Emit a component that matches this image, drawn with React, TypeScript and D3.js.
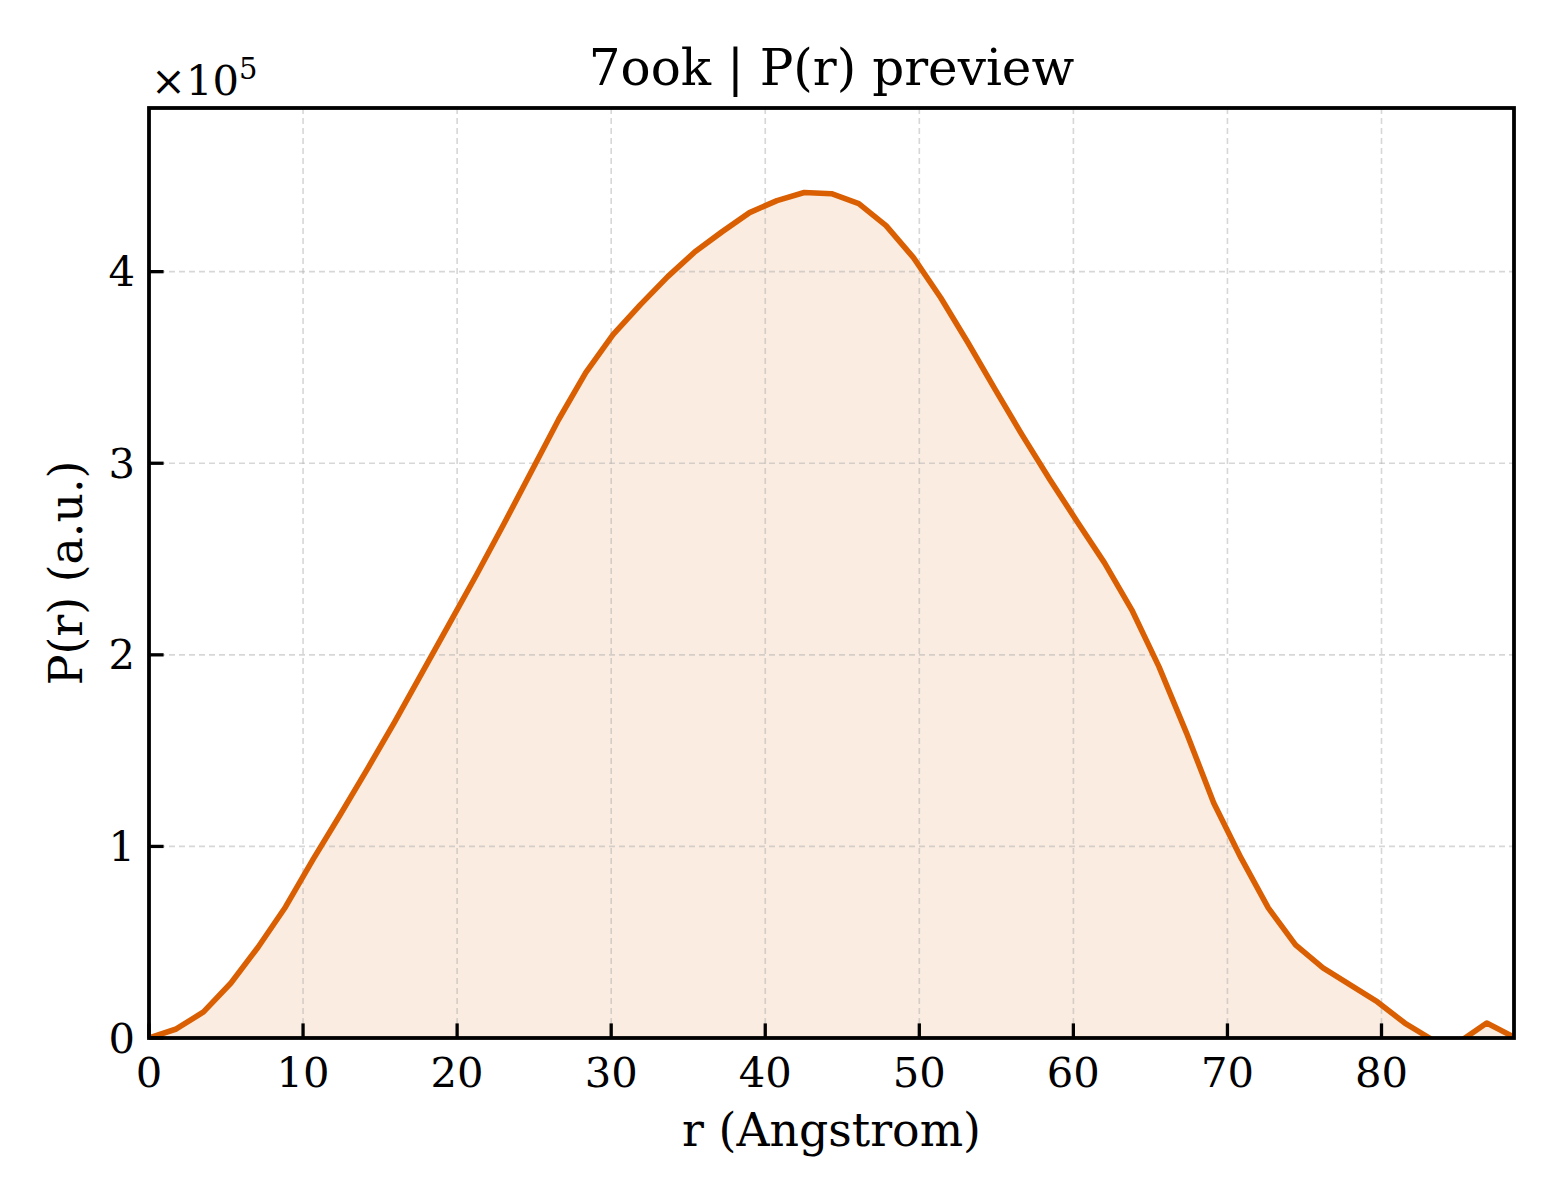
import React from 'react';
import * as d3 from 'd3';

// r grid (Angstrom)
const rValues = [
  0, 1.77, 3.54, 5.32, 7.09, 8.86, 10.63, 12.4, 14.18, 15.95, 17.72, 19.49, 21.26,
  23.04, 24.81, 26.58, 28.35, 30.12, 31.9, 33.67, 35.44, 37.21, 38.98, 40.76, 42.53,
  44.3, 46.07, 47.84, 49.62, 51.39, 53.16, 54.93, 56.7, 58.48, 60.25, 62.02, 63.79,
  65.56, 67.34, 69.11, 70.88, 72.65, 74.42, 76.2, 77.97, 79.74, 81.51, 83.28, 85.06,
  86.83, 88.6,
];

// P(r) in units of 1e5
const prValues = [
  0, 0.047, 0.136, 0.287, 0.475, 0.684, 0.93, 1.164, 1.405, 1.65, 1.906, 2.162, 2.418,
  2.684, 2.956, 3.227, 3.473, 3.671, 3.828, 3.974, 4.104, 4.209, 4.308, 4.371, 4.413,
  4.407, 4.355, 4.24, 4.073, 3.864, 3.629, 3.384, 3.144, 2.914, 2.695, 2.48, 2.235,
  1.937, 1.593, 1.227, 0.94, 0.679, 0.486, 0.366, 0.277, 0.188, 0.078, -0.008, -0.02,
  0.078, 0.005,
];

const xTicks = [0, 10, 20, 30, 40, 50, 60, 70, 80];
const yTicks = [0, 1, 2, 3, 4];

const title = '7ook | P(r) preview';
const xLabel = 'r (Angstrom)';
const yLabel = 'P(r) (a.u.)';

const App: React.FC = () => {
  const width = 1560;
  const height = 1200;
  const margin = { top: 108, right: 46, bottom: 162, left: 149 };
  const x0 = margin.left;
  const x1 = width - margin.right;
  const y0 = height - margin.bottom;
  const y1 = margin.top;

  const font = '"DejaVu Serif", serif';
  const lineColor = '#d95f02';

  const data = rValues.map((r, i) => ({ r, p: prValues[i] }));

  const xScale = d3
    .scaleLinear()
    .domain([0, d3.max(rValues) as number])
    .range([x0, x1]);

  const yScale = d3
    .scaleLinear()
    .domain([0, (d3.max(prValues) as number) * 1.1])
    .range([y0, y1]);

  const line = d3
    .line<{ r: number; p: number }>()
    .x((d) => xScale(d.r))
    .y((d) => yScale(d.p));

  const area = d3
    .area<{ r: number; p: number }>()
    .x((d) => xScale(d.r))
    .y0(yScale(0))
    .y1((d) => yScale(d.p));

  const tickLen = 14.6;

  return (
    <>
      <style>{'body{margin:0}'}</style>
      <svg width={width} height={height} style={{ display: 'block', background: '#fff' }}>
        <defs>
          <clipPath id="plot-clip">
            <rect x={x0} y={y1} width={x1 - x0} height={y0 - y1} />
          </clipPath>
        </defs>

        {/* filled area under the curve */}
        <path
          d={area(data) as string}
          fill={lineColor}
          fillOpacity={0.12}
          clipPath="url(#plot-clip)"
        />

        {/* grid */}
        <g stroke="#b0b0b0" strokeOpacity={0.5} strokeWidth={1.6} strokeDasharray="6,4">
          {xTicks.map((t) => (
            <line key={`gx${t}`} x1={xScale(t)} x2={xScale(t)} y1={y1} y2={y0} />
          ))}
          {yTicks.map((t) => (
            <line key={`gy${t}`} x1={x0} x2={x1} y1={yScale(t)} y2={yScale(t)} />
          ))}
        </g>

        {/* P(r) curve */}
        <path
          d={line(data) as string}
          fill="none"
          stroke={lineColor}
          strokeWidth={5.6}
          strokeLinejoin="round"
          clipPath="url(#plot-clip)"
        />

        {/* ticks (inward) */}
        <g stroke="#000" strokeWidth={3.3}>
          {xTicks.map((t) => (
            <line key={`tx${t}`} x1={xScale(t)} x2={xScale(t)} y1={y0} y2={y0 - tickLen} />
          ))}
          {yTicks.map((t) => (
            <line key={`ty${t}`} x1={x0} x2={x0 + tickLen} y1={yScale(t)} y2={yScale(t)} />
          ))}
        </g>

        {/* spines */}
        <rect
          x={x0}
          y={y1}
          width={x1 - x0}
          height={y0 - y1}
          fill="none"
          stroke="#000"
          strokeWidth={3.8}
        />

        {/* tick labels */}
        <g fontFamily={font} fontSize={41.7} fill="#000">
          {xTicks.map((t) => (
            <text key={`lx${t}`} x={xScale(t)} y={y0 + 49} textAnchor="middle">
              {t}
            </text>
          ))}
          {yTicks.map((t) => (
            <text
              key={`ly${t}`}
              x={x0 - 14}
              y={yScale(t)}
              textAnchor="end"
              dominantBaseline="central"
            >
              {t}
            </text>
          ))}
          <text x={x0 + 2} y={95}>
            ×10
            <tspan fontSize={29} dy={-16}>
              5
            </tspan>
          </text>
        </g>

        {/* axis labels and title */}
        <text
          x={(x0 + x1) / 2}
          y={1146}
          textAnchor="middle"
          fontFamily={font}
          fontSize={45.8}
        >
          {xLabel}
        </text>
        <text
          transform={`translate(82,${(y0 + y1) / 2}) rotate(-90)`}
          textAnchor="middle"
          fontFamily={font}
          fontSize={45.8}
        >
          {yLabel}
        </text>
        <text
          x={(x0 + x1) / 2}
          y={85}
          textAnchor="middle"
          fontFamily={font}
          fontSize={50}
        >
          {title}
        </text>
      </svg>
    </>
  );
};

export default App;
